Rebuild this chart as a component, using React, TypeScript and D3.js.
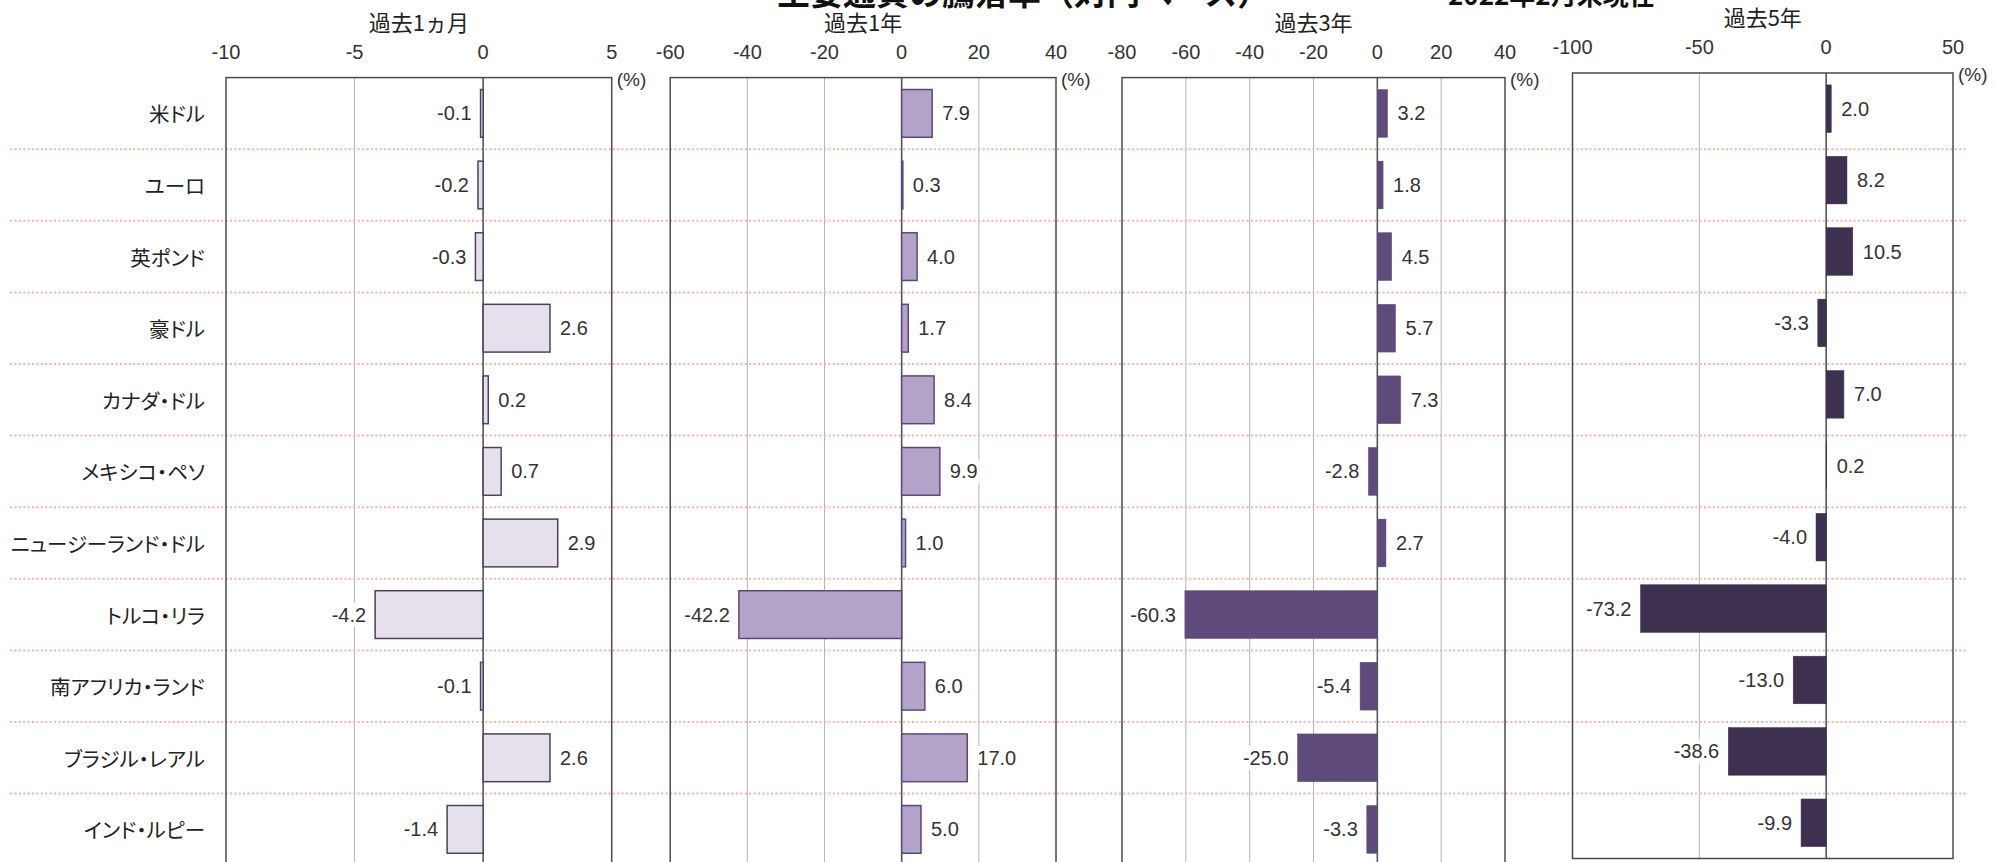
import React from "react";
import * as d3 from "d3";

const categories = [
  "米ドル",
  "ユーロ",
  "英ポンド",
  "豪ドル",
  "カナダ・ドル",
  "メキシコ・ペソ",
  "ニュージーランド・ドル",
  "トルコ・リラ",
  "南アフリカ・ランド",
  "ブラジル・レアル",
  "インド・ルピー",
];

const periods = ["過去1ヵ月", "過去1年", "過去3年", "過去5年"];

const month1 = [-0.1, -0.2, -0.3, 2.6, 0.2, 0.7, 2.9, -4.2, -0.1, 2.6, -1.4];
const year1 = [7.9, 0.3, 4.0, 1.7, 8.4, 9.9, 1.0, -42.2, 6.0, 17.0, 5.0];
const year3 = [3.2, 1.8, 4.5, 5.7, 7.3, -2.8, 2.7, -60.3, -5.4, -25.0, -3.3];
const year5 = [2.0, 8.2, 10.5, -3.3, 7.0, 0.2, -4.0, -73.2, -13.0, -38.6, -9.9];

const domains: [number, number][] = [
  [-10, 5],
  [-60, 40],
  [-80, 40],
  [-100, 50],
];
const ticks1 = [-10, -5, 0, 5];
const ticks2 = [-60, -40, -20, 0, 20, 40];
const ticks3 = [-80, -60, -40, -20, 0, 20, 40];
const ticks4 = [-100, -50, 0, 50];

const title = "主要通貨の騰落率（対円ベース）";
const dateNote = "2022年2月末現在";
const unitLabel = "(%)";

const seriesList = [month1, year1, year3, year5];
const tickList = [ticks1, ticks2, ticks3, ticks4];

// layout & style (not data)
const W = 1995;
const H = 862;
const panelLeft = [226, 670.2, 1122, 1572.5];
const panelRight = [611.7, 1056, 1505, 1953];
const panelTop = [77.6, 77.6, 77.6, 73];
const panelBottom = [865.2, 865.2, 865.2, 858.5];
const fills = ["#e6e0ed", "#b3a3c8", "#5f4b7b", "#3e3150"];
const strokes = ["#4e4061", "#5a487b", "#5f4b7b", "#3e3150"];
const LATIN = "'Liberation Sans', Arial, sans-serif";
const CJK = "'Noto Sans CJK JP', sans-serif";

const charW: Record<string, number> = { "-": 0.333, ".": 0.278 };
function textWidth(s: string, fs: number) {
  let w = 0;
  for (const c of s) w += charW[c] ?? 0.556;
  return w * fs;
}

export default function App() {
  const labelFs = 20;
  const y0 = d3
    .scaleBand<string>()
    .domain(categories)
    .range([panelTop[0], panelBottom[0]]);

  return (
    <svg
      width={W}
      height={H}
      viewBox={`0 0 ${W} ${H}`}
      style={{ position: "fixed", left: 0, top: 0, background: "#fff" }}
    >
      <rect x={0} y={0} width={W} height={H} fill="#fff" />
      {/* title (cut off at top) */}
      <text
        x={777}
        y={4.5}
        fontFamily={CJK}
        fontWeight={700}
        fontSize={33}
        fill="#111"
      >
        {title}
      </text>
      <text
        x={1448}
        y={4.5}
        fontFamily={CJK}
        fontWeight={700}
        fontSize={26}
        fill="#111"
      >
        {dateNote}
      </text>

      {/* category labels */}
      {categories.map((c) => (
        <text
          key={c}
          x={205}
          y={(y0(c) as number) + y0.bandwidth() / 2}
          textAnchor="end"
          dominantBaseline="central"
          fontFamily={CJK}
          fontSize={20.5}
          fill="#222"
          style={{ fontFeatureSettings: "'palt'" }}
        >
          {c}
        </text>
      ))}

      {seriesList.map((vals, p) => {
        const x = d3
          .scaleLinear()
          .domain(domains[p])
          .range([panelLeft[p], panelRight[p]]);
        const top = panelTop[p];
        const bottom = panelBottom[p];
        const dy = top - panelTop[0];
        const ticks = tickList[p];
        return (
          <g key={p}>
            <text
              x={(panelLeft[p] + panelRight[p]) / 2}
              y={31 + dy}
              textAnchor="middle"
              fontFamily={CJK}
              fontSize={22}
              fill="#222"
            >
              {periods[p]}
            </text>
            {ticks.map((t) => (
              <text
                key={t}
                x={x(t)}
                y={59 + dy}
                textAnchor="middle"
                fontFamily={LATIN}
                fontSize={20}
                fill="#333"
              >
                {String(t)}
              </text>
            ))}
            <text
              x={panelRight[p] + 5}
              y={top + 8}
              fontFamily={LATIN}
              fontSize={19}
              fill="#333"
            >
              {unitLabel}
            </text>
            {ticks
              .filter((t) => t !== 0 && x(t) > panelLeft[p] + 1 && x(t) < panelRight[p] - 1)
              .map((t) => (
                <line
                  key={t}
                  x1={x(t)}
                  x2={x(t)}
                  y1={top}
                  y2={bottom}
                  stroke="#b4b4b4"
                  strokeWidth={1}
                />
              ))}
          </g>
        );
      })}

      {/* dotted separators */}
      {categories.slice(1).map((c) => (
        <line
          key={c}
          x1={10}
          x2={1966}
          y1={y0(c) as number}
          y2={y0(c) as number}
          stroke="#f5b0b0"
          strokeWidth={2}
          strokeDasharray="2 2.4"
        />
      ))}

      {seriesList.map((vals, p) => {
        const x = d3
          .scaleLinear()
          .domain(domains[p])
          .range([panelLeft[p], panelRight[p]]);
        const y = d3
          .scaleBand<string>()
          .domain(categories)
          .range([panelTop[p], panelBottom[p]])
          .paddingInner(0.333)
          .paddingOuter(0.1665);
        const top = panelTop[p];
        const bottom = panelBottom[p];
        const x0 = x(0);
        return (
          <g key={"b" + p}>
            <line
              x1={x0}
              x2={x0}
              y1={top}
              y2={bottom}
              stroke="#555"
              strokeWidth={1.6}
            />
            {vals.map((v, i) => {
              const c = categories[i];
              const by = y(c) as number;
              const bx = Math.min(x(v), x0);
              const bw = Math.abs(x(v) - x0);
              return (
                <rect
                  key={c}
                  x={bx}
                  y={by}
                  width={bw}
                  height={y.bandwidth()}
                  fill={fills[p]}
                  stroke={strokes[p]}
                  strokeWidth={p < 2 ? 1.5 : 0.5}
                />
              );
            })}
            {vals.map((v, i) => {
              const c = categories[i];
              const cy = (y(c) as number) + y.bandwidth() / 2;
              const s = v.toFixed(1);
              const tw = textWidth(s, labelFs);
              const pos = v >= 0;
              const tx = pos ? x(v) + 10 : x(v) - 9;
              const rx = pos ? tx - 2 : tx - tw - 2;
              return (
                <g key={c}>
                  <rect
                    x={rx}
                    y={cy - 12}
                    width={tw + 4}
                    height={24}
                    fill="#fff"
                  />
                  <text
                    x={tx}
                    y={cy}
                    textAnchor={pos ? "start" : "end"}
                    dominantBaseline="central"
                    fontFamily={LATIN}
                    fontSize={labelFs}
                    fill="#333"
                  >
                    {s}
                  </text>
                </g>
              );
            })}
            <rect
              x={panelLeft[p]}
              y={top}
              width={panelRight[p] - panelLeft[p]}
              height={bottom - top}
              fill="none"
              stroke="#4a4a4a"
              strokeWidth={1.5}
            />
          </g>
        );
      })}
    </svg>
  );
}
